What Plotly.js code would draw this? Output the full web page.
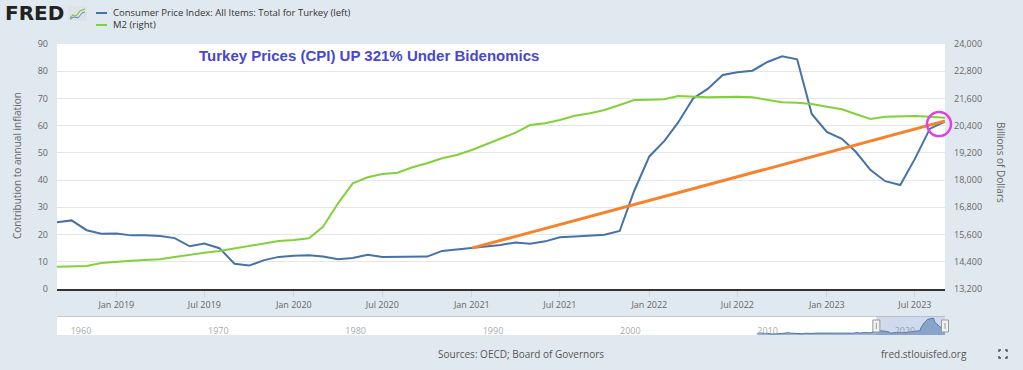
<!DOCTYPE html>
<html>
<head>
<meta charset="utf-8">
<script src="https://cdn.plot.ly/plotly-3.0.1.min.js"></script>
<style>html,body{margin:0;padding:0;background:#e1e9f0;}#chart{width:1023px;height:370px;}</style>
</head>
<body>
<div id="chart"></div>
<script>
// ---------- DATA ----------
const dates = [
 '2018-09-01','2018-10-01','2018-11-01','2018-12-01',
 '2019-01-01','2019-02-01','2019-03-01','2019-04-01','2019-05-01','2019-06-01','2019-07-01','2019-08-01','2019-09-01','2019-10-01','2019-11-01','2019-12-01',
 '2020-01-01','2020-02-01','2020-03-01','2020-04-01','2020-05-01','2020-06-01','2020-07-01','2020-08-01','2020-09-01','2020-10-01','2020-11-01','2020-12-01',
 '2021-01-01','2021-02-01','2021-03-01','2021-04-01','2021-05-01','2021-06-01','2021-07-01','2021-08-01','2021-09-01','2021-10-01','2021-11-01','2021-12-01',
 '2022-01-01','2022-02-01','2022-03-01','2022-04-01','2022-05-01','2022-06-01','2022-07-01','2022-08-01','2022-09-01','2022-10-01','2022-11-01','2022-12-01',
 '2023-01-01','2023-02-01','2023-03-01','2023-04-01','2023-05-01','2023-06-01','2023-07-01','2023-08-01','2023-09-01'
];
const cpiTurkey = [
 24.5, 25.2, 21.6, 20.3,
 20.35, 19.7, 19.7, 19.5, 18.7, 15.7, 16.7, 15.0, 9.3, 8.6, 10.6, 11.8,
 12.2, 12.4, 11.9, 10.9, 11.4, 12.6, 11.8, 11.8, 11.75, 11.9, 14.0, 14.6,
 15.0, 15.6, 16.2, 17.1, 16.6, 17.5, 19.0, 19.25, 19.6, 19.9, 21.3, 36.1,
 48.7, 54.4, 61.1, 70.0, 73.5, 78.6, 79.6, 80.2, 83.4, 85.5, 84.4, 64.3,
 57.7, 55.2, 50.5, 43.7, 39.6, 38.2, 47.8, 58.9, 61.5
];
const m2 = [
 14180, 14190, 14214, 14346,
 14403, 14448, 14478, 14508, 14610, 14712, 14800, 14875, 14994, 15109, 15228, 15316,
 15360, 15435, 15946, 16978, 17860, 18124, 18270, 18327, 18565, 18741, 18961, 19107,
 19327, 19578, 19826, 20090, 20429, 20504, 20650, 20839, 20945, 21090, 21311, 21531,
 21545, 21562, 21707, 21680, 21655, 21660, 21677, 21650, 21531, 21430, 21413, 21355,
 21236, 21121, 20914, 20694, 20795, 20826, 20826, 20795, 20751
];
// trend line drawn on the chart (start / end)
const trendDates = ['2021-01-01', '2023-09-01'];
const trendValues = [15.0, 61.7];
// navigator history of the CPI series before the visible window (rough reading)
const navHistDates = [
 '2010-01-01','2010-04-01','2010-07-01','2010-10-01','2011-01-01','2011-04-01','2011-07-01','2011-10-01',
 '2012-01-01','2012-04-01','2012-07-01','2012-10-01','2013-01-01','2013-04-01','2013-07-01','2013-10-01',
 '2014-01-01','2014-04-01','2014-07-01','2014-10-01','2015-01-01','2015-04-01','2015-07-01','2015-10-01',
 '2016-01-01','2016-04-01','2016-07-01','2016-10-01','2017-01-01','2017-04-01','2017-07-01','2017-10-01',
 '2018-01-01','2018-04-01','2018-07-01'
];
const navHistValues = [
 8.2, 10.2, 7.6, 8.6, 4.9, 4.3, 6.3, 7.7,
 10.6, 11.1, 9.1, 7.8, 7.3, 6.1, 8.9, 7.7,
 7.8, 9.4, 9.3, 9.0, 7.2, 7.9, 6.8, 7.6,
 9.6, 6.6, 8.8, 7.2, 9.2, 11.9, 9.8, 11.9,
 10.3, 10.9, 15.9
];
const leftTicks = [0,10,20,30,40,50,60,70,80,90];
const rightTicks = [13200,14400,15600,16800,18000,19200,20400,21600,22800,24000];
const xTickVals = ['2019-01-01','2019-07-01','2020-01-01','2020-07-01','2021-01-01','2021-07-01','2022-01-01','2022-07-01','2023-01-01','2023-07-01'];
const xTickText = ['Jan 2019','Jul 2019','Jan 2020','Jul 2020','Jan 2021','Jul 2021','Jan 2022','Jul 2022','Jan 2023','Jul 2023'];
const navTickVals = ['1960-01-01','1970-01-01','1980-01-01','1990-01-01','2000-01-01','2010-01-01','2020-01-01'];
const navTickText = ['1960','1970','1980','1990','2000','2010','2020'];
const seriesNames = ['Consumer Price Index: All Items: Total for Turkey (left)', 'M2 (right)'];
const chartTitle = 'Turkey Prices (CPI) UP 321% Under Bidenomics';

// ---------- LAYOUT GEOMETRY ----------
const L = 57, R = 945, T = 44, B = 340;
const W = R - L, H = B - T;
const px = p => (p - L) / W;
const py = p => (B - p) / H;
const mainDomain = [py(289), 1];
const navDomain = [py(335), py(317)];
const xRange = ['2018-09-01', '2023-09-01'];
const navRange = ['1959-01-01', '2023-09-01'];
const yRange = [0, 90];

const blue = '#4572a7', green = '#82d13a', orange = '#f7822b';

const navDates = navHistDates.concat(dates);
const navValues = navHistValues.concat(cpiTurkey);

const traces = [
 {x: dates, y: cpiTurkey, type: 'scatter', mode: 'lines', line: {color: blue, width: 2}, xaxis: 'x', yaxis: 'y', name: seriesNames[0], hoverinfo: 'skip'},
 {x: dates, y: m2, type: 'scatter', mode: 'lines', line: {color: green, width: 2}, xaxis: 'x', yaxis: 'y2', name: seriesNames[1], hoverinfo: 'skip'},
 {x: trendDates, y: trendValues, type: 'scatter', mode: 'lines', line: {color: orange, width: 3}, xaxis: 'x', yaxis: 'y', hoverinfo: 'skip'},
 {x: navDates, y: navValues, type: 'scatter', mode: 'lines', fill: 'tozeroy', fillcolor: 'rgba(69,114,167,0.55)', line: {color: blue, width: 1}, xaxis: 'x2', yaxis: 'y3', hoverinfo: 'skip'}
];

// helpers for paper positions derived from data axes
const frac = (d, r) => (Date.parse(d) - Date.parse(r[0])) / (Date.parse(r[1]) - Date.parse(r[0]));
const lastIdx = dates.length - 1;
const circX = frac(dates[lastIdx], xRange);
const circY = mainDomain[0] + (cpiTurkey[lastIdx] - yRange[0]) / (yRange[1] - yRange[0]) * (mainDomain[1] - mainDomain[0]);
const selStart = frac(dates[0], navRange);
const selEnd = frac(dates[lastIdx], navRange);

const shapes = [
 // navigator outline
 {type: 'line', xref: 'paper', yref: 'paper', x0: 0, x1: 1, y0: py(316.5), y1: py(316.5), line: {color: '#c8c8c8', width: 1}},
 // navigator selection mask
 {type: 'rect', xref: 'paper', yref: 'paper', x0: selStart, x1: selEnd, y0: navDomain[0], y1: py(316.5), fillcolor: 'rgba(102,133,194,0.3)', line: {width: 0}, layer: 'above'},
 // handles
 {type: 'rect', xref: 'paper', yref: 'paper', xsizemode: 'pixel', xanchor: selStart, x0: -3.5, x1: 3.5, y0: py(332), y1: py(320), fillcolor: '#f2f2f2', line: {color: '#999', width: 1}},
 {type: 'rect', xref: 'paper', yref: 'paper', xsizemode: 'pixel', xanchor: selEnd, x0: -3.5, x1: 3.5, y0: py(332), y1: py(320), fillcolor: '#f2f2f2', line: {color: '#999', width: 1}},
 {type: 'line', xref: 'paper', yref: 'paper', xsizemode: 'pixel', xanchor: selStart, x0: 0, x1: 0, y0: py(329), y1: py(323), line: {color: '#999', width: 1}},
 {type: 'line', xref: 'paper', yref: 'paper', xsizemode: 'pixel', xanchor: selEnd, x0: 0, x1: 0, y0: py(329), y1: py(323), line: {color: '#999', width: 1}},
 // highlight circle around last point
 {type: 'circle', xref: 'paper', yref: 'paper', xsizemode: 'pixel', ysizemode: 'pixel', xanchor: circX, yanchor: circY, x0: -18, x1: 6, y0: -14.5, y1: 9.5, line: {color: '#e040e8', width: 2.5}},
 // legend swatches
 {type: 'line', xref: 'paper', yref: 'paper', x0: px(96), x1: px(107), y0: py(13), y1: py(13), line: {color: blue, width: 2}},
 {type: 'line', xref: 'paper', yref: 'paper', x0: px(96), x1: px(107), y0: py(25), y1: py(25), line: {color: green, width: 2}},
 // FRED icon
 {type: 'rect', xref: 'paper', yref: 'paper', x0: px(68), x1: px(87), y0: py(21), y1: py(6), fillcolor: '#dde2e6', line: {width: 0}},
 {type: 'path', xref: 'paper', yref: 'paper', path: `M ${px(70)} ${py(18)} L ${px(73)} ${py(15)} L ${px(76)} ${py(16)} L ${px(80)} ${py(11)} L ${px(85)} ${py(9)}`, line: {color: '#8cc63f', width: 1.2}},
 {type: 'path', xref: 'paper', yref: 'paper', path: `M ${px(70)} ${py(19)} L ${px(74)} ${py(17)} L ${px(78)} ${py(18)} L ${px(82)} ${py(13)} L ${px(85)} ${py(12)}`, line: {color: '#5b86c5', width: 1}},
 // fullscreen icon
 {type: 'path', xref: 'paper', yref: 'paper', path: `M ${px(999)} ${py(352)} L ${px(999)} ${py(350)} L ${px(1001)} ${py(350)} M ${px(1005)} ${py(350)} L ${px(1007)} ${py(350)} L ${px(1007)} ${py(352)} M ${px(999)} ${py(356)} L ${px(999)} ${py(358)} L ${px(1001)} ${py(358)} M ${px(1005)} ${py(358)} L ${px(1007)} ${py(358)} L ${px(1007)} ${py(356)}`, line: {color: '#555', width: 1.5}}
];

const ann = (x, y, text, opts) => Object.assign({xref: 'paper', yref: 'paper', x: px(x), y: py(y), text: text, showarrow: false}, opts || {});
const annotations = [
 ann(3, 13.5, '<b>FRED</b>', {xanchor: 'left', yanchor: 'middle', font: {family: 'DejaVu Sans', size: 20, color: '#222'}}),
 ann(111, 13, seriesNames[0], {xanchor: 'left', yanchor: 'middle', font: {family: 'Open Sans', size: 9.5, color: '#333'}}),
 ann(111, 25, seriesNames[1], {xanchor: 'left', yanchor: 'middle', font: {family: 'Open Sans', size: 9.5, color: '#333'}}),
 ann(369, 55, '<b>' + chartTitle + '</b>', {xanchor: 'center', yanchor: 'middle', font: {family: 'Liberation Sans', size: 15, color: '#4747d1'}}),
 ann(17, 166, 'Contribution to annual inflation', {xanchor: 'center', yanchor: 'middle', textangle: -90, font: {family: 'Open Sans', size: 10, color: '#666'}}),
 ann(1001, 162, 'Billions of Dollars', {xanchor: 'center', yanchor: 'middle', textangle: 90, font: {family: 'Open Sans', size: 10, color: '#666'}}),
 ann(521, 354, 'Sources: OECD; Board of Governors', {xanchor: 'center', yanchor: 'middle', font: {family: 'Open Sans', size: 10, color: '#555'}}),
 ann(924, 354, 'fred.stlouisfed.org', {xanchor: 'center', yanchor: 'middle', font: {family: 'Open Sans', size: 10, color: '#555'}})
];

const layout = {
 width: 1023, height: 370,
 paper_bgcolor: '#e1e9f0', plot_bgcolor: '#ffffff',
 margin: {l: L, r: 1023 - R, t: T, b: 370 - B, pad: 0},
 showlegend: false,
 font: {family: 'Open Sans', size: 9, color: '#666'},
 xaxis: {domain: [0, 1], anchor: 'y', type: 'date', range: xRange, tickmode: 'array', tickvals: xTickVals, ticktext: xTickText,
   showgrid: false, zeroline: false, showline: true, linecolor: '#333', linewidth: 2, ticks: 'outside', ticklen: 6, tickcolor: '#ccd6eb',
   tickfont: {size: 9, color: '#666'}, fixedrange: true},
 yaxis: {domain: mainDomain, anchor: 'x', range: yRange, tickmode: 'array', tickvals: leftTicks, showgrid: true, gridcolor: '#e6e6e6', gridwidth: 1,
   zeroline: false, showline: false, ticks: '', ticklabelstandoff: 8, tickfont: {size: 9, color: '#666'}, fixedrange: true},
 yaxis2: {overlaying: 'y', side: 'right', anchor: 'x', range: [13200, 24000], tickmode: 'array', tickvals: rightTicks, tickformat: ',',
   showgrid: false, zeroline: false, showline: false, ticks: '', ticklabelstandoff: 8, tickfont: {size: 9, color: '#666'}, fixedrange: true},
 xaxis2: {domain: [0, 1], anchor: 'y3', type: 'date', range: navRange, tickmode: 'array', tickvals: navTickVals, ticktext: navTickText,
   ticklabelposition: 'inside right', ticklabelstandoff: -7, showgrid: false, zeroline: false, showline: false, ticks: '', tickfont: {size: 9, color: '#aaa'}, fixedrange: true},
 yaxis3: {domain: navDomain, anchor: 'x2', range: [0, 90], visible: false, fixedrange: true},
 shapes: shapes,
 annotations: annotations
};

Plotly.newPlot('chart', traces, layout, {displayModeBar: false, staticPlot: true});
</script>
</body>
</html>
